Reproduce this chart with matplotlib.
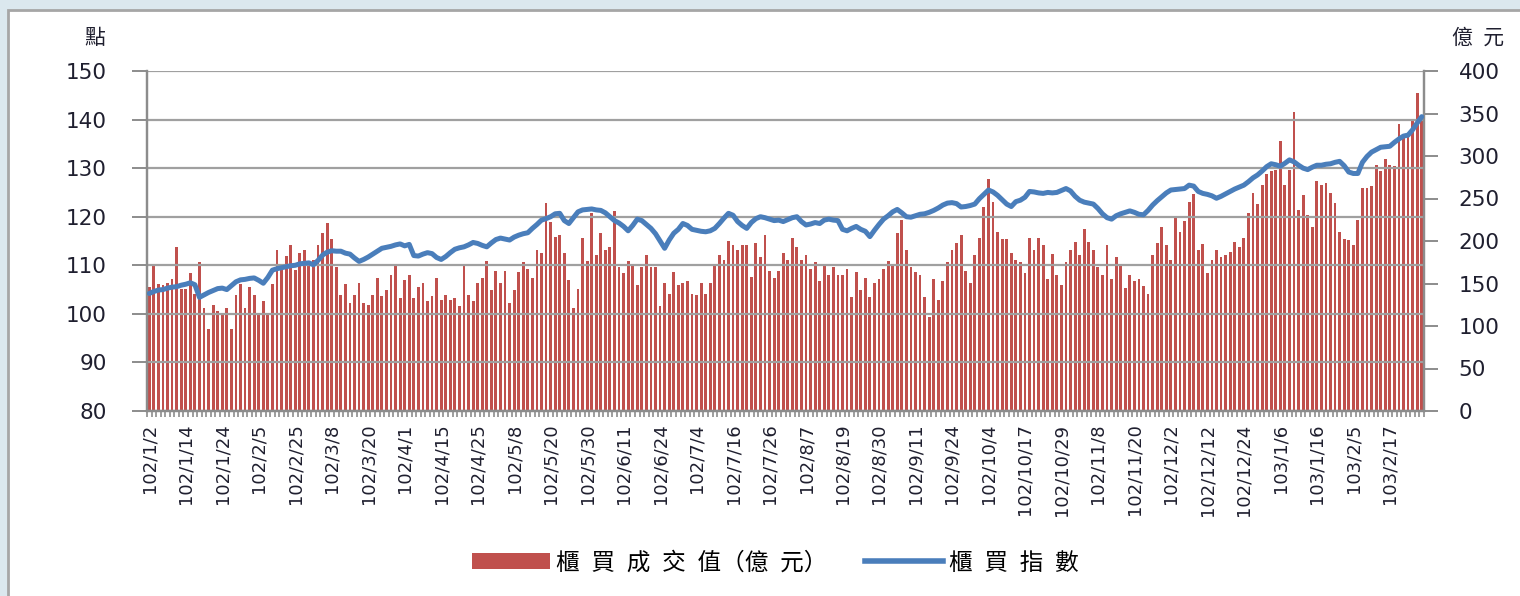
import matplotlib.pyplot as plt
import numpy as np
from matplotlib.patches import Patch, Rectangle
from matplotlib.lines import Line2D
from matplotlib.font_manager import FontProperties

CJK = ['Noto Sans CJK TC', 'DejaVu Sans']

# x tick labels, one for every 8th trading day
tick_labels = ["102/1/2", "102/1/14", "102/1/24", "102/2/5", "102/2/25", "102/3/8",
               "102/3/20", "102/4/1", "102/4/15", "102/4/25", "102/5/8", "102/5/20",
               "102/5/30", "102/6/11", "102/6/24", "102/7/4", "102/7/16", "102/7/26",
               "102/8/7", "102/8/19", "102/8/30", "102/9/11", "102/9/24", "102/10/4",
               "102/10/17", "102/10/29", "102/11/8", "102/11/20", "102/12/2", "102/12/12",
               "102/12/24", "103/1/6", "103/1/16", "103/2/5", "103/2/17"]

# 櫃買成交值 (億元), daily
volume = [
    146, 172, 150, 148, 151, 155, 193, 144, 143, 162, 138, 175, 121, 97, 125,
    118, 115, 121, 97, 136, 150, 121, 146, 136, 113, 130, 115, 150, 190, 166,
    182, 195, 166, 186, 190, 174, 178, 195, 209, 221, 202, 170, 136, 150, 127,
    136, 151, 127, 125, 136, 156, 135, 142, 160, 172, 133, 154, 160, 133, 146,
    151, 130, 135, 156, 131, 136, 131, 133, 123, 171, 136, 130, 151, 156, 177,
    142, 165, 151, 165, 127, 142, 163, 175, 167, 156, 189, 186, 245, 222, 205,
    207, 186, 154,
    121, 143, 203, 177, 233, 184, 210, 190, 193, 235, 170, 162, 177, 171, 148,
    170, 184, 170, 170, 123, 151, 138, 163, 148, 151, 153, 138, 136, 151, 138,
    151, 171, 184, 178, 200, 195, 190, 195, 195, 158, 198, 181, 207, 165, 157,
    165,
    186, 178, 204, 193, 178, 184, 167, 175, 153, 171, 160, 170, 160, 160, 167,
    134, 163, 142, 157, 134, 151, 155, 167, 176, 171, 210, 225, 189, 169, 163,
    160, 134, 111, 155, 131, 153, 175, 190, 198, 207, 165, 151, 184, 204, 240,
    273,
    246, 211, 202, 202, 186, 178, 175, 162, 204, 189, 204, 195, 155, 185, 160,
    148, 175, 190, 199, 184, 214, 199, 189, 170, 160, 195, 155, 181, 171, 145,
    160, 153, 155, 147, 138, 184, 198, 216, 195, 178, 229, 211, 223, 246, 255,
    190,
    197, 162, 178, 190, 181, 184, 187, 199, 193, 204, 233, 256, 244, 266, 279,
    282, 284, 318, 266, 284, 352, 237, 254, 231, 217, 271, 266, 268, 256, 245,
    211, 202, 201, 195, 225, 262, 262, 265, 289, 282, 296, 289, 288, 338, 321,
    324, 342, 374, 342,
]

# 櫃買指數 (點), daily
index = [
    104.2, 104.6, 104.9, 105.0, 105.3, 105.5, 105.6, 105.9, 106.1, 106.4,
    106.0, 103.4, 103.9, 104.4, 104.8, 105.2, 105.3, 105.0, 105.8, 106.6,
    107.0, 107.1, 107.3, 107.4, 106.9, 106.3, 107.5, 109.0, 109.3, 109.5,
    109.7, 109.9, 110.0, 110.3, 110.4, 110.5, 110.1, 111.0, 112.1, 112.7,
    113.0, 112.9, 112.9, 112.5, 112.3, 111.5, 110.8, 111.2, 111.7, 112.3,
    112.9, 113.5, 113.7, 113.9, 114.2, 114.4, 114.0, 114.3, 112.0, 111.9,
    112.3, 112.6, 112.4, 111.6, 111.2, 111.8, 112.6, 113.3, 113.6, 113.8,
    114.2, 114.7, 114.5, 114.1, 113.8, 114.6, 115.3, 115.6, 115.4, 115.2,
    115.8, 116.2, 116.5, 116.7, 117.6, 118.4, 119.3, 119.6, 120.0, 120.6,
    120.7, 119.2, 118.6, 119.8, 121.0, 121.4, 121.5, 121.6, 121.4, 121.3,
    120.8, 120.0, 119.2, 118.7, 118.0, 117.1, 118.2, 119.5, 119.2, 118.4,
    117.6, 116.5, 115.0, 113.5, 115.2, 116.6, 117.4, 118.6, 118.2, 117.4,
    117.2, 117.0, 116.9, 117.1, 117.6, 118.6, 119.7, 120.7, 120.3, 119.0,
    118.2, 117.6, 118.8, 119.6, 120.0, 119.8, 119.5, 119.2, 119.3, 119.0,
    119.4, 119.8, 120.0, 119.0, 118.3, 118.5, 118.8, 118.6, 119.3, 119.5,
    119.3, 119.2, 117.4, 117.1, 117.6, 118.0, 117.4, 117.0, 115.9, 117.2,
    118.4, 119.5, 120.2, 121.0, 121.5, 120.8, 120.0, 119.9, 120.2, 120.5,
    120.6, 120.9, 121.3, 121.8, 122.4, 122.8, 122.9, 122.7, 122.0, 122.1,
    122.3, 122.6, 123.7, 124.6, 125.5, 125.1, 124.4, 123.5, 122.6, 122.1,
    123.1, 123.4, 124.0, 125.2, 125.1, 124.9, 124.8, 125.0, 124.9, 125.0,
    125.4, 125.8, 125.3, 124.2, 123.4, 123.0, 122.8, 122.6, 121.7, 120.6,
    119.8, 119.5, 120.2, 120.6, 120.9, 121.2, 120.9, 120.5, 120.4, 121.3,
    122.4, 123.3, 124.1, 124.9, 125.5, 125.6, 125.7, 125.8, 126.5, 126.3,
    125.2, 124.8, 124.6, 124.3, 123.8, 124.2, 124.7, 125.2, 125.7, 126.1,
    126.5, 127.2, 128.0, 128.6, 129.4, 130.3, 130.9, 130.7, 130.4, 131.0,
    131.7, 131.3, 130.6, 130.0, 129.7, 130.2, 130.6, 130.6, 130.8, 130.9,
    131.2, 131.4, 130.5, 129.2, 128.9, 128.9, 131.2, 132.4, 133.3, 133.8,
    134.3, 134.4, 134.5, 135.3, 136.0, 136.6, 136.8, 137.9, 139.3, 140.6,
]

bar_label = "櫃\u2002買\u2002成\u2002交\u2002值（億\u2002元）"
line_label = "櫃\u2002買\u2002指\u2002數"

assert len(volume) == len(index) == 280, (len(volume), len(index))

W, H = 1520, 596
fig = plt.figure(figsize=(W / 100, H / 100), dpi=100)
fig.patch.set_facecolor('#dbe8ee')
# white chart area with a grey frame, behind everything else
fig.patches.append(Rectangle((8 / W, -0.01), 1.0, 1 - 10 / H + 0.01, transform=fig.transFigure,
                             facecolor='white', edgecolor='#a6a6a6', lw=2.0, zorder=-5))

gray = '#8c8c8c'
txt = '#1f1f2f'
x = np.arange(len(volume))

ax = fig.add_axes([147 / W, 1 - 411 / H, (1424 - 147) / W, (411 - 71) / H])
ax2 = ax.twinx()
ax2.bar(x, volume, width=0.62, color='#c0504d', linewidth=0)
ax.plot(x, index, color='#4a7ebb', lw=3.6, solid_joinstyle='round', solid_capstyle='round', zorder=5)
ax.set_zorder(ax2.get_zorder() + 1)
ax.patch.set_visible(False)
ax2.patch.set_visible(False)

ax.set_xlim(-0.5, len(volume) - 0.5)
ax.set_ylim(80, 150)
ax2.set_ylim(0, 400)
ax.set_yticks(range(80, 151, 10))
ax2.set_yticks(range(0, 401, 50))
ax.grid(axis='y', color='#a0a0a0', lw=1.6, zorder=1)

for a in (ax, ax2):
    a.spines['top'].set_visible(False)
    for s in ('left', 'right', 'bottom'):
        a.spines[s].set_color(gray)
        a.spines[s].set_linewidth(1.6)

ax.tick_params(axis='y', length=11, width=1.4, color=gray, pad=18, labelsize=15.5, labelcolor=txt)
ax2.tick_params(axis='y', length=10, width=1.4, color=gray, pad=15, labelsize=15.5, labelcolor=txt)

ax.set_xticks(x[::8][:len(tick_labels)])
ax.set_xticklabels(tick_labels, rotation=90, fontsize=13, color=txt)
ax.set_xticks(np.arange(-0.5, len(volume), 1), minor=True)
ax.tick_params(axis='x', which='major', length=0, pad=9)
ax.tick_params(axis='x', which='minor', length=4, width=1.2, color=gray)
ax2.tick_params(axis='x', length=0)

fig.text(95 / W, 1 - 38 / H, "點", ha='center', va='center', fontsize=15, family=CJK, color=txt)
fig.text(1478 / W, 1 - 38 / H, "億\u2002元", ha='center', va='center', fontsize=15, family=CJK, color=txt)

handles = [Patch(facecolor='#c0504d', edgecolor='none'),
           Line2D([], [], color='#4a7ebb', lw=4)]
fig.legend(handles, [bar_label, line_label], loc='center', bbox_to_anchor=(0.51, 1 - 563 / H),
           ncol=2, frameon=False, prop=FontProperties(family=CJK, size=17),
           handlelength=3.3, handleheight=0.65, handletextpad=0.25, columnspacing=1.6)

fig.savefig('out.png', dpi=100, facecolor=fig.get_facecolor())
